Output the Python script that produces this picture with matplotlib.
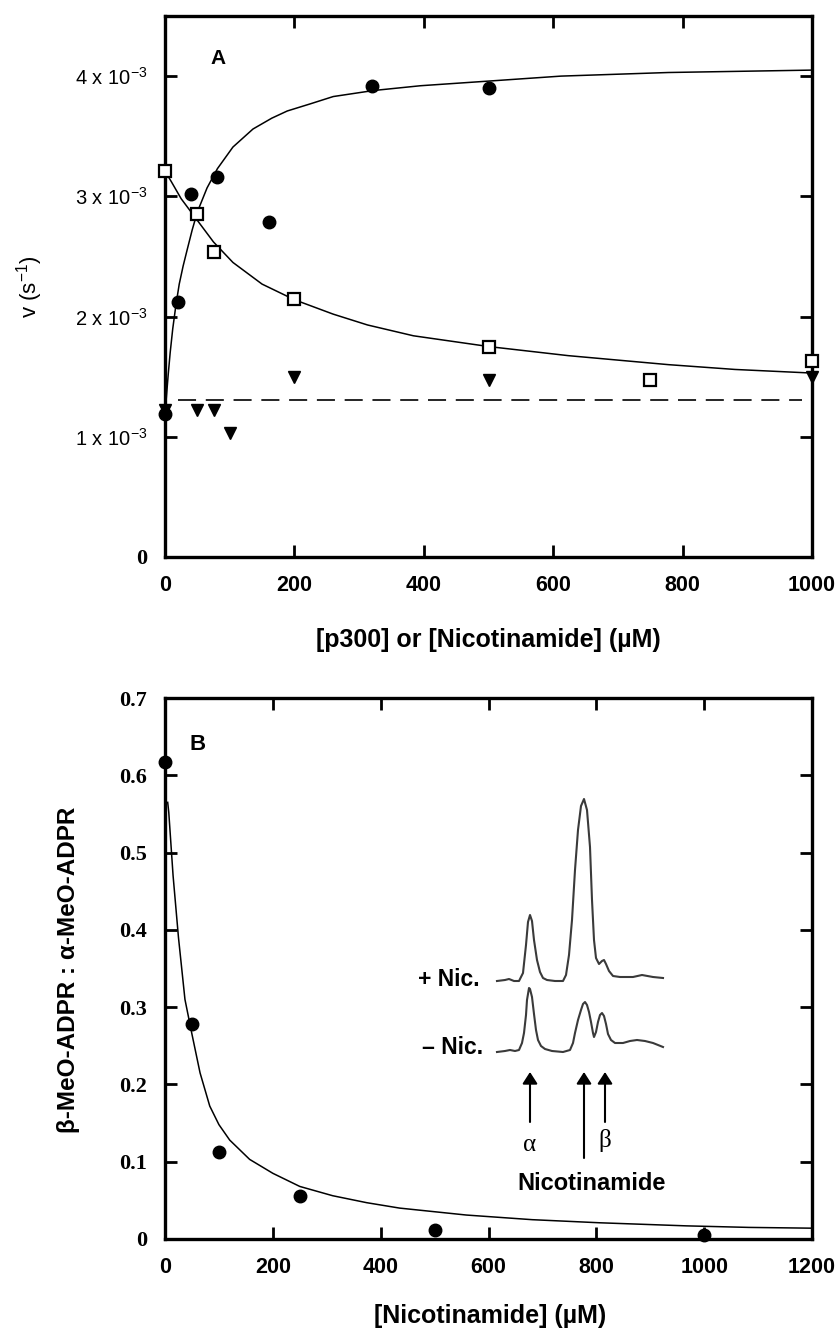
import matplotlib
matplotlib.use('Agg')
import matplotlib.pyplot as plt
import numpy as np

plt.rcParams['font.family'] = ['Liberation Sans', 'DejaVu Sans']
plt.rcParams['mathtext.fontset'] = 'custom'
plt.rcParams['mathtext.rm'] = 'Liberation Sans'
plt.rcParams['mathtext.it'] = 'Liberation Sans:italic'
plt.rcParams['mathtext.bf'] = 'Liberation Sans:bold'
plt.rcParams['lines.scale_dashes'] = False

# ---- panel A : v (s^-1, in units of 1e-3) vs [p300] or [Nicotinamide] (uM)
p300_x = [0, 20, 40, 80, 160, 320, 500]
p300_v = [1.19, 2.12, 3.02, 3.16, 2.79, 3.92, 3.90]
nic_x = [0, 50, 75, 200, 500, 750, 1000]
nic_v = [3.21, 2.85, 2.54, 2.15, 1.75, 1.475, 1.63]
tri_x = [0, 50, 75, 100, 200, 500, 1000]
tri_v = [1.225, 1.22, 1.22, 1.03, 1.50, 1.475, 1.50]
dash_x = [20, 985]
dash_v = [1.31, 1.31]

# fitted curves
fit_up_x = [0, 2, 5, 8, 12, 17, 22, 28, 34, 42, 50, 65, 81, 105, 136, 165, 189,
            225, 260, 322, 395, 504, 612, 778, 1000]
fit_up_v = [1.20, 1.32, 1.52, 1.70, 1.90, 2.10, 2.27, 2.42, 2.55, 2.72, 2.87, 3.07,
            3.23, 3.41, 3.56, 3.65, 3.71, 3.77, 3.83, 3.88, 3.92, 3.96, 4.00, 4.03, 4.05]
fit_dn_x = [0, 10, 25, 50, 75, 105, 150, 200, 260, 313, 384, 501, 623, 778, 881, 1000]
fit_dn_v = [3.21, 3.12, 2.98, 2.80, 2.62, 2.45, 2.27, 2.14, 2.02, 1.93, 1.84, 1.75,
            1.675, 1.60, 1.56, 1.53]

# ---- panel B : beta/alpha ratio vs [Nicotinamide]
ratio_x = [0, 50, 100, 250, 500, 1000]
ratio_y = [0.617, 0.278, 0.112, 0.055, 0.012, 0.005]
fitB_x = [5, 7, 15, 25, 37, 50, 65, 83, 100, 120, 157, 200, 250, 311, 374, 435, 559,
          681, 806, 967, 1083, 1200]
fitB_y = [0.565, 0.552, 0.47, 0.39, 0.31, 0.265, 0.215, 0.172, 0.148, 0.128, 0.103,
          0.085, 0.068, 0.056, 0.047, 0.040, 0.031, 0.025, 0.021, 0.017, 0.015, 0.014]

# ---- inset chromatograms (retention, signal above own baseline)
plus_t = [0, 8, 12, 17, 22, 26, 29, 31, 33, 35, 37, 40, 43, 46, 50, 58, 66, 69, 72,
          75, 78, 81, 84, 87, 90, 93, 95, 97, 99, 102, 105, 107, 109, 112, 116, 123,
          136, 145, 156, 166]
plus_s = [0, 1, 2, 0, 0, 8, 36, 59, 66, 60, 41, 21, 9, 3, 1, 0, 0, 6, 26, 61, 111,
          151, 175, 182, 171, 134, 81, 41, 23, 17, 20, 21, 17, 10, 5, 4, 4, 6, 4, 3]
minus_t = [0, 8, 13, 18, 22, 25, 27, 29, 30, 32, 33, 35, 37, 39, 41, 44, 48, 55, 66,
           73, 76, 78, 81, 84, 86, 88, 90, 92, 94, 96, 97, 99, 101, 103, 105, 107, 109,
           111, 114, 118, 126, 133, 140, 148, 156, 166]
minus_s = [0, 1, 2, 1, 2, 9, 19, 37, 52, 64, 63, 55, 38, 22, 12, 6, 3, 1, 0, 2, 9,
           19, 32, 42, 48, 50, 47, 40, 30, 19, 15, 20, 30, 37, 39, 36, 28, 18, 12, 9,
           9, 11, 12, 11, 9, 5]
peak_t = [33, 87, 108]

W, H = 838, 1328
fig = plt.figure(figsize=(W / 100, H / 100), dpi=100)
axA = fig.add_axes([165 / W, 1 - 557 / H, 647 / W, 541 / H])
axB = fig.add_axes([165 / W, 1 - 1239 / H, 647 / W, 541 / H])


def style(ax):
    for sp in ax.spines.values():
        sp.set_linewidth(2.4)
    ax.tick_params(direction='in', length=8.5, width=2.0, top=True, right=True,
                   pad=13)


# panel A
s = 1e-3
axA.plot(fit_up_x, np.array(fit_up_v) * s, color='black', lw=1.1, zorder=2)
axA.plot(fit_dn_x, np.array(fit_dn_v) * s, color='black', lw=1.1, zorder=2)
axA.plot(dash_x, np.array(dash_v) * s, color='black', lw=1.2, dashes=(13, 7), zorder=2)
axA.plot(p300_x, np.array(p300_v) * s, 'o', color='black', ms=9, zorder=4, clip_on=False)
axA.plot(tri_x, np.array(tri_v) * s, 'v', color='black', ms=9, zorder=4, clip_on=False)
axA.plot(nic_x, np.array(nic_v) * s, 's', mfc='white', mec='black', mew=1.6, ms=8,
         zorder=5, clip_on=False)
axA.set_xlim(0, 1000)
axA.set_ylim(0, 4.5e-3)
style(axA)
axA.set_xticks([0, 200, 400, 600, 800, 1000],
               ['0', '200', '400', '600', '800', '1000'], fontsize=15.5, fontweight='bold')
axA.set_yticks([0, 1e-3, 2e-3, 3e-3, 4e-3],
               ['0', '1 x 10$^{-3}$', '2 x 10$^{-3}$', '3 x 10$^{-3}$',
                '4 x 10$^{-3}$'], fontsize=14.5)
ylab0 = axA.get_yticklabels()[0]
ylab0.set_fontfamily('Liberation Serif')
ylab0.set_fontweight('bold')
ylab0.set_fontsize(16)
fig.text(218 / W, 1 - 59 / H, 'A', ha='center', va='center', fontsize=15,
         fontweight='bold')
fig.text(488 / W, 1 - 640 / H, '[p300] or [Nicotinamide] (µM)', ha='center',
         va='center', fontsize=18, fontweight='bold')
fig.text(30 / W, 1 - 287 / H, 'v (s$^{-1}$)', ha='center', va='center', rotation=90,
         fontsize=16)

# panel B
axB.plot(fitB_x, fitB_y, color='black', lw=1.1, zorder=2)
axB.plot(ratio_x, ratio_y, 'o', color='black', ms=9, zorder=4, clip_on=False)
axB.set_xlim(0, 1200)
axB.set_ylim(0, 0.7)
style(axB)
axB.set_xticks([0, 200, 400, 600, 800, 1000, 1200],
               ['0', '200', '400', '600', '800', '1000', '1200'], fontsize=15.5,
               fontweight='bold')
axB.set_yticks([0, 0.1, 0.2, 0.3, 0.4, 0.5, 0.6, 0.7],
               ['0', '0.1', '0.2', '0.3', '0.4', '0.5', '0.6', '0.7'], fontsize=16,
               fontweight='bold', fontfamily='Liberation Serif')
fig.text(198 / W, 1 - 745 / H, 'B', ha='center', va='center', fontsize=16,
         fontweight='bold')
fig.text(490 / W, 1 - 1316 / H, '[Nicotinamide] (µM)', ha='center', va='center',
         fontsize=18, fontweight='bold')
fig.text(68 / W, 1 - 970 / H, 'β-MeO-ADPR : α-MeO-ADPR', ha='center', va='center',
         rotation=90, fontsize=17.5, fontweight='bold')

# inset chromatograms
axI = fig.add_axes([370 / W, 1 - 1200 / H, 330 / W, 420 / H])
axI.set_xlim(-127, 203)
axI.set_ylim(-148, 272)
axI.axis('off')
axI.patch.set_alpha(0)
plus_off = 71
axI.plot(plus_t, np.array(plus_s) + plus_off, color='#3a3a3a', lw=1.5)
axI.plot(minus_t, minus_s, color='#3a3a3a', lw=1.5)
axI.text(-17, plus_off + 1, '+ Nic.', ha='right', va='center', fontsize=16.5,
         fontweight='bold')
axI.text(-14, 4, '– Nic.', ha='right', va='center', fontsize=16.5, fontweight='bold')
arrow_bottom = [-70, -106, -70]
for t, yb in zip(peak_t, arrow_bottom):
    axI.annotate('', xy=(t, -20), xytext=(t, yb),
                 arrowprops=dict(arrowstyle='-|>,head_length=0.7,head_width=0.45',
                                 mutation_scale=10, lw=1.5, color='black',
                                 shrinkA=0, shrinkB=0))
axI.text(peak_t[0], -93, 'α', ha='center', va='center', fontsize=18,
         fontfamily='Liberation Serif')
axI.text(peak_t[2], -89, 'β', ha='center', va='center', fontsize=18,
         fontfamily='Liberation Serif')
axI.text(95, -131, 'Nicotinamide', ha='center', va='center', fontsize=17,
         fontweight='bold')

fig.savefig('out.png', dpi=100)
